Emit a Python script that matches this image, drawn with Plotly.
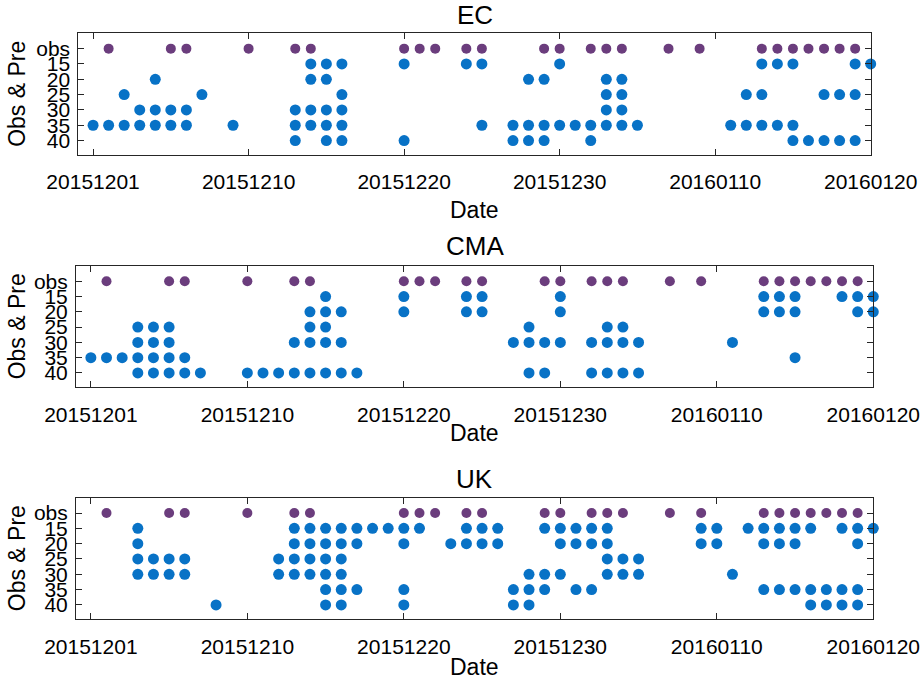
import plotly.graph_objects as go

# ---------------- data ----------------
TICK_DAYS = [0, 10, 20, 30, 40, 50]
DATE_LABELS = ['20151201', '20151210', '20151220', '20151230', '20160110', '20160120']
ROW_VALUES = [10, 15, 20, 25, 30, 35, 40]
ROW_LABELS = ['obs', '15', '20', '25', '30', '35', '40']
MODELS = ['EC', 'CMA', 'UK']

OBS_DAYS = [1, 5, 6, 10, 13, 14, 20, 21, 22, 24, 25, 29, 30, 32, 33, 34, 37, 39,
            43, 44, 45, 46, 47, 48, 49]

EC_15 = [14, 15, 16, 20, 24, 25, 30, 43, 44, 45, 49, 50]
EC_20 = [4, 14, 15, 28, 29, 33, 34]
EC_25 = [2, 7, 16, 33, 34, 42, 43, 47, 48, 49]
EC_30 = [3, 4, 5, 6, 13, 14, 15, 16, 33, 34]
EC_35 = [0, 1, 2, 3, 4, 5, 6, 9, 13, 14, 15, 16, 25, 27, 28, 29, 30, 31, 32, 33, 34, 35,
         41, 42, 43, 44, 45]
EC_40 = [13, 15, 16, 20, 27, 28, 29, 32, 45, 46, 47, 48, 49]

CMA_15 = [15, 20, 24, 25, 30, 43, 44, 45, 48, 49, 50]
CMA_20 = [14, 15, 16, 20, 24, 25, 30, 43, 44, 45, 49, 50]
CMA_25 = [3, 4, 5, 14, 15, 28, 33, 34]
CMA_30 = [3, 4, 5, 13, 14, 15, 16, 27, 28, 29, 30, 32, 33, 34, 35, 41]
CMA_35 = [0, 1, 2, 3, 4, 5, 6, 45]
CMA_40 = [3, 4, 5, 6, 7, 10, 11, 12, 13, 14, 15, 16, 17, 28, 29, 32, 33, 34, 35]

UK_15 = [3, 13, 14, 15, 16, 17, 18, 19, 20, 21, 24, 25, 26, 29, 30, 31, 32, 33, 39, 40,
         42, 43, 44, 45, 46, 48, 49, 50]
UK_20 = [3, 13, 14, 15, 16, 17, 20, 23, 24, 25, 26, 30, 31, 32, 33, 39, 40, 43, 44, 45, 49]
UK_25 = [3, 4, 5, 6, 12, 13, 14, 15, 16, 33, 34, 35]
UK_30 = [3, 4, 5, 6, 12, 13, 14, 15, 16, 28, 29, 30, 33, 34, 35, 41]
UK_35 = [15, 16, 17, 20, 27, 28, 29, 31, 32, 43, 44, 45, 46, 47, 48, 49]
UK_40 = [8, 15, 16, 20, 27, 28, 46, 47, 48, 49]

PRED = {
    'EC': [EC_15, EC_20, EC_25, EC_30, EC_35, EC_40],
    'CMA': [CMA_15, CMA_20, CMA_25, CMA_30, CMA_35, CMA_40],
    'UK': [UK_15, UK_20, UK_25, UK_30, UK_35, UK_40],
}

# ---------------- style ----------------
W, H = 920, 680
FONT = 'Arial, Liberation Sans, Helvetica, sans-serif'
OBS_COLOR = '#6B3D7D'
PRE_COLOR = '#0872C6'
# pixel boxes of the three panels in window pixels: (left, right, top, bottom)
PANELS = [(78.3, 870.7, 33.3, 155.0),
          (76.0, 873.3, 266.0, 387.3),
          (76.0, 873.3, 497.7, 619.3)]
TITLE_Y = [14.7, 246.0, 479.0]
XLABEL_Y = [210.0, 433.0, 667.0]


def px_x(p):
    return p / W


def px_y(p):
    return 1 - p / H


fig = go.Figure()
annotations = []

for i, model in enumerate(MODELS):
    sfx = '' if i == 0 else str(i + 1)
    xref, yref = 'x' + sfx, 'y' + sfx
    fig.add_trace(go.Scatter(
        x=OBS_DAYS, y=[ROW_VALUES[0]] * len(OBS_DAYS), mode='markers',
        marker=dict(color=OBS_COLOR, size=10, line=dict(width=0)),
        xaxis=xref, yaxis=yref, cliponaxis=False, showlegend=False))
    for rv, days in zip(ROW_VALUES[1:], PRED[model]):
        fig.add_trace(go.Scatter(
            x=days, y=[rv] * len(days), mode='markers',
            marker=dict(color=PRE_COLOR, size=11, line=dict(width=0)),
            xaxis=xref, yaxis=yref, cliponaxis=False, showlegend=False))

    l, r, t, b = PANELS[i]
    common = dict(showline=True, linecolor='#262626', linewidth=1, mirror='ticks',
                  ticks='inside', ticklen=6, tickwidth=1, tickcolor='#262626',
                  showgrid=False, zeroline=False, automargin=False,
                  ticklabeloverflow='allow',
                  tickfont=dict(family=FONT, size=21, color='#000000'))
    fig.update_layout(**{
        'xaxis' + sfx: dict(domain=[px_x(l), px_x(r)], anchor=yref, range=[-0.95, 50],
                            tickvals=TICK_DAYS, ticktext=DATE_LABELS,
                            ticklabelstandoff=8, **common),
        'yaxis' + sfx: dict(domain=[px_y(b), px_y(t)], anchor=xref,
                            range=[44.7, 5], tickvals=ROW_VALUES, ticktext=ROW_LABELS,
                            ticklabelstandoff=3, **common),
    })
    cx = px_x((l + r) / 2)
    annotations.append(dict(text=model, x=cx, y=px_y(TITLE_Y[i]), xref='paper',
                            yref='paper', showarrow=False, xanchor='center',
                            yanchor='middle', font=dict(family=FONT, size=26, color='#000000')))
    annotations.append(dict(text='Date', x=cx, y=px_y(XLABEL_Y[i]), xref='paper',
                            yref='paper', showarrow=False, xanchor='center',
                            yanchor='middle', font=dict(family=FONT, size=23, color='#000000')))
    annotations.append(dict(text='Obs &amp; Pre', x=px_x(16.7), y=px_y((t + b) / 2),
                            xref='paper', yref='paper', showarrow=False, textangle=-90,
                            xanchor='center', yanchor='middle',
                            font=dict(family=FONT, size=23, color='#000000')))

fig.update_layout(width=W, height=H,
                  margin=dict(l=0, r=0, t=0, b=0, pad=0, autoexpand=False),
                  paper_bgcolor='white', plot_bgcolor='white',
                  annotations=annotations, showlegend=False)

# the browser page has a default 8px body margin; remove it so the figure fills the window
fig.write_html('out.html', config={'responsive': False, 'displayModeBar': False},
               post_script="document.body.style.margin='0';document.body.style.overflow='hidden';")
